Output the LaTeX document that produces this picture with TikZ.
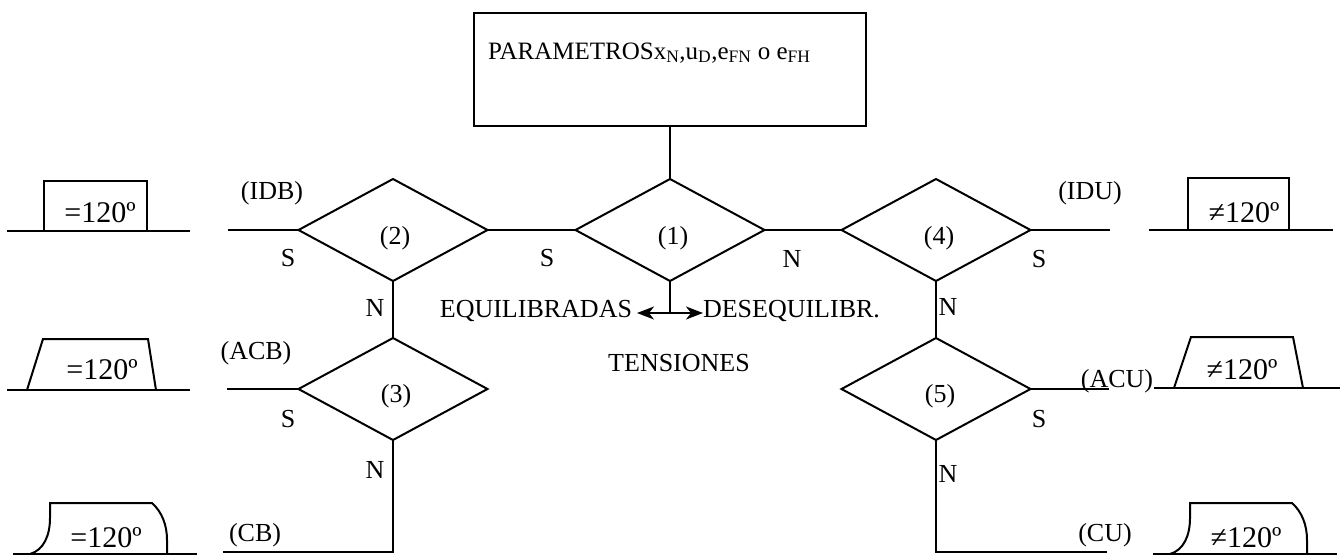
\documentclass[tikz,border=0pt]{standalone}
\usepackage{fontspec}
\setmainfont{Liberation Serif}
\usetikzlibrary{shapes.geometric,arrows.meta}
\begin{document}
\begin{tikzpicture}[x=1pt,y=-1pt,line width=2pt,
  every node/.style={inner sep=0pt,outer sep=0pt},
  lbl/.style={font=\fontsize{26}{28}\selectfont},
  ang/.style={font=\fontsize{30}{32}\selectfont},
  ptext/.style={font=\fontsize{25}{27}\selectfont},
  dec/.style={draw,diamond,minimum width=189pt,minimum height=102pt},
  tip/.style={-{Stealth[length=17pt,width=13pt,inset=5pt]}}]
\useasboundingbox (0,0) rectangle (1340,557);

% parameter box
\node[draw,minimum width=392pt,minimum height=113pt] (par) at (670,69.5) {};
\node[ptext,anchor=base west] (ptx) at (488,59)
  {PARAMETROS{x\textsubscript{N},u\textsubscript{D},e\textsubscript{FN} o e\textsubscript{FH}}};

% decision diamonds
\node[dec] (d1) at (670,230) {};
\node[dec] (d2) at (393,230) {};
\node[dec] (d4) at (936,230) {};
\node[dec] (d3) at (393,389) {};
\node[dec] (d5) at (936,389) {};
\node[lbl] (n1) at (673,238) {(1)};
\node[lbl] (n2) at (395,238) {(2)};
\node[lbl] (n4) at (939,238) {(4)};
\node[lbl] (n3) at (396,396) {(3)};
\node[lbl] (n5) at (940,396) {(5)};

% free ends of the branches
\coordinate (e2) at (228,230);
\coordinate (e4) at (1110,230);
\coordinate (e3) at (227,389);
\coordinate (e5) at (1109,389);
\coordinate (cb) at (223,552);
\coordinate (cu) at (1107,552);
\coordinate (fork) at (670,313);
\coordinate (eqL) at (637,313);
\coordinate (eqR) at (703,313);

% connectors
\draw (par.south) -- (d1.north);
\draw (d2.east) -- (d1.west);
\draw (d1.east) -- (d4.west);
\draw (d2.south) -- (d3.north);
\draw (d4.south) -- (d5.north);
\draw (d2.west) -- (e2);
\draw (d4.east) -- (e4);
\draw (d3.west) -- (e3);
\draw (d5.east) -- (e5);
\draw (d3.south) |- (cb);
\draw (d5.south) |- (cu);
\draw (d1.south) -- (fork);
\draw[tip] (fork) -- (eqL);
\draw[tip] (fork) -- (eqR);

% branch labels
\node[lbl] (s2) at (288,258) {S};
\node[lbl] (s1) at (547,258) {S};
\node[lbl] (nn1) at (792,259) {N};
\node[lbl] (s4) at (1039,259) {S};
\node[lbl] (nn2) at (375,308) {N};
\node[lbl] (nn4) at (948,307) {N};
\node[lbl] (s3) at (288,419) {S};
\node[lbl] (nn3) at (375,470) {N};
\node[lbl] (s5) at (1039,419) {S};
\node[lbl] (nn5) at (948,474) {N};

\node[lbl] (idb) at (272,193) {(IDB)};
\node[lbl] (idu) at (1090,193) {(IDU)};
\node[lbl] (acb) at (256,353) {(ACB)};
\node[lbl,anchor=base] (acu) at (1117,387) {(ACU)};
\node[lbl] (cbl) at (255,535) {(CB)};
\node[lbl] (cul) at (1105,535) {(CU)};

\node[lbl,anchor=east] (eq) at (632,311) {EQUILIBRADAS};
\node[lbl,anchor=west] (deq) at (703,311) {DESEQUILIBR.};
\node[lbl] (ten) at (679,363) {TENSIONES};

% rectangular pulse
\draw (7,231) -- (190,231);
\draw (44,231) |- (147,181) -- (147,231);
\node[ang] (a1) at (100,213) {=120º};
\draw (1149,230) -- (1333,230);
\draw (1188,230) |- (1289,178) -- (1289,230);
\node[ang] (a2) at (1244,213) {≠120º};

% trapezoidal pulse
\draw (7,390) -- (190,390);
\draw (27,390) -- (43,339) -- (148,339) -- (156,390);
\node[ang] (a3) at (102,370) {=120º};
\draw (1154,388) -- (1340,388);
\draw (1174,388) -- (1191,337) -- (1293,337) -- (1303,388);
\node[ang] (a4) at (1242,370) {≠120º};

% curved pulse
\draw (13,554) -- (197,554);
\draw (30,554) .. controls (44,550) and (50,535) .. (50,518) -- (50,503) -- (152,503)
  .. controls (162,512) and (167,525) .. (167,540) -- (167,554);
\node[ang] (a5) at (106,538) {=120º};
\draw (1153,554) -- (1337,554);
\draw (1170,554) .. controls (1184,550) and (1190,535) .. (1190,518) -- (1190,503) -- (1292,503)
  .. controls (1302,512) and (1307,525) .. (1307,540) -- (1307,554);
\node[ang] (a6) at (1246,538) {≠120º};
\end{tikzpicture}
\end{document}
